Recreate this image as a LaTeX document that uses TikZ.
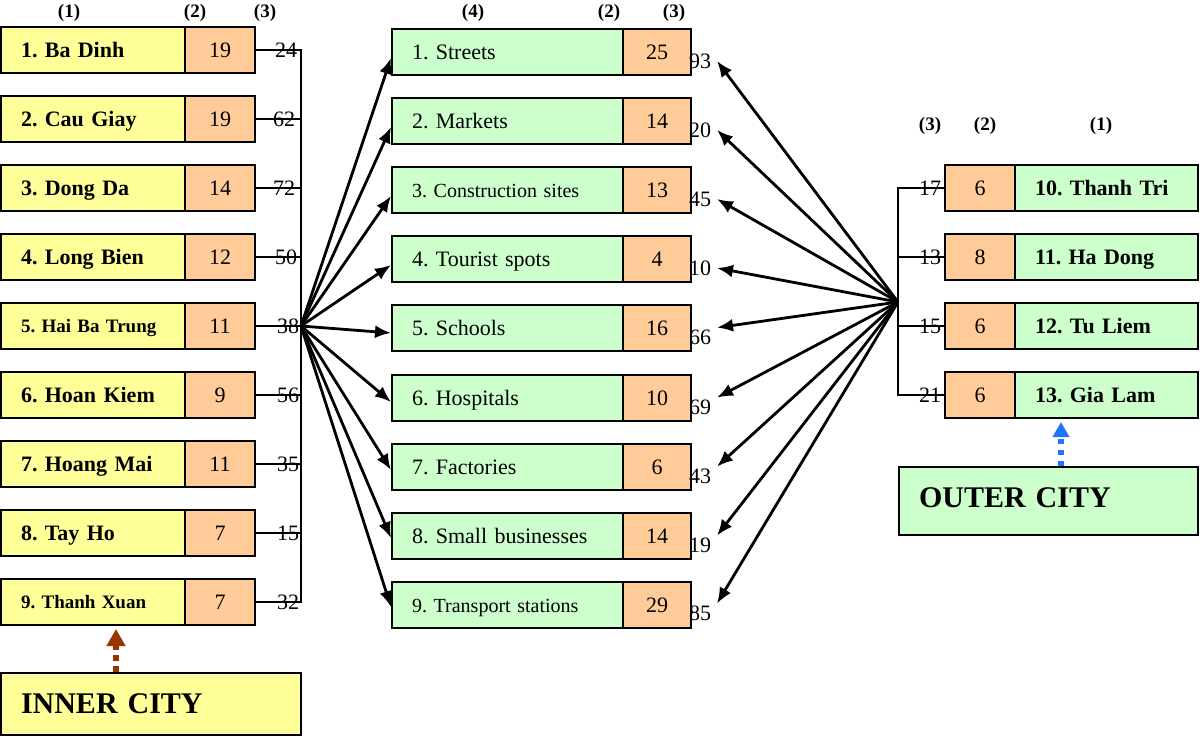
\documentclass[tikz,border=0pt]{standalone}
\usepackage{fontspec}
\setmainfont{Liberation Serif}
\usepackage{tikz}
\usetikzlibrary{arrows.meta,calc}
\usepackage{xcolor}
\definecolor{inyellow}{HTML}{FFFF99}
\definecolor{cellorange}{HTML}{FFCC99}
\definecolor{sitegreen}{HTML}{CCFFCC}
\definecolor{innerbrown}{HTML}{993300}
\definecolor{outerblue}{HTML}{1F75FE}
\frenchspacing

\begin{document}
\begin{tikzpicture}[x=1pt, y=-1pt, line width=2pt,
box/.style={draw, minimum height=46pt, inner ysep=0pt, text height=15pt, text depth=0pt, font=\fontsize{22}{24}\selectfont},
dist/.style={box, fill=inyellow, text width=144pt, inner xsep=20pt, align=left, font=\fontsize{22}{24}\selectfont\bfseries},
odist/.style={dist, fill=sitegreen, text width=143pt},
site/.style={box, fill=sitegreen, text width=191pt, inner xsep=20pt, align=left},
count/.style={box, fill=cellorange, minimum width=70pt, inner xsep=0pt},
val/.style={inner sep=1pt, font=\fontsize{22}{24}\selectfont},
head/.style={inner sep=0pt, font=\fontsize{19}{21}\selectfont\bfseries},
smallb/.style={font=\fontsize{19}{21}\selectfont\bfseries, text height=13pt},
smallr/.style={font=\fontsize{20}{22}\selectfont, text height=14pt},
city/.style={draw, text width=260pt, inner xsep=20pt, inner ysep=0pt, align=left, text height=20pt, font=\fontsize{30}{32}\selectfont\bfseries},
arr/.style={line width=2.8pt, -{Latex[length=16pt,width=13pt]}}]
\useasboundingbox (0,0) rectangle (1200,736);

\node[head] (h1) at (69,13) {(1)};
\node[head] (h2) at (195,13) {(2)};
\node[head] (h3) at (265,13) {(3)};
\node[head] (h4) at (473,13) {(4)};
\node[head] (h5) at (609,13) {(2)};
\node[head] (h6) at (674,13) {(3)};
\node[head] (h7) at (930,126) {(3)};
\node[head] (h8) at (985,126) {(2)};
\node[head] (h9) at (1101,126) {(1)};

\node[dist] (d1) at (93,50) {1. Ba Dinh};
\node[count] (d1c) at (220,50) {19};
\node[val, anchor=east] (d1v) at (299,50) {24};
\node[dist] (d2) at (93,119) {2. Cau Giay};
\node[count] (d2c) at (220,119) {19};
\node[val, anchor=east] (d2v) at (297,119) {62};
\node[dist] (d3) at (93,188) {3. Dong Da};
\node[count] (d3c) at (220,188) {14};
\node[val, anchor=east] (d3v) at (297,188) {72};
\node[dist] (d4) at (93,257) {4. Long Bien};
\node[count] (d4c) at (220,257) {12};
\node[val, anchor=east] (d4v) at (299,257) {50};
\node[dist, smallb] (d5) at (93,326) {5. Hai Ba Trung};
\node[count] (d5c) at (220,326) {11};
\node[val, anchor=east] (d5v) at (301,326) {38};
\node[dist] (d6) at (93,395) {6. Hoan Kiem};
\node[count] (d6c) at (220,395) {9};
\node[val, anchor=east] (d6v) at (301,395) {56};
\node[dist] (d7) at (93,464) {7. Hoang Mai};
\node[count] (d7c) at (220,464) {11};
\node[val, anchor=east] (d7v) at (301,464) {35};
\node[dist] (d8) at (93,533) {8. Tay Ho};
\node[count] (d8c) at (220,533) {7};
\node[val, anchor=east] (d8v) at (301,533) {15};
\node[dist, smallb] (d9) at (93,602) {9. Thanh Xuan};
\node[count] (d9c) at (220,602) {7};
\node[val, anchor=east] (d9v) at (301,602) {32};

\node[site] (s1) at (507.5,52) {1. Streets};
\node[count, minimum width=68pt] (s1c) at (657,52) {25};
\node[val, anchor=west] (s1v) at (687,61) {93};
\node[site] (s2) at (507.5,121) {2. Markets};
\node[count, minimum width=68pt] (s2c) at (657,121) {14};
\node[val, anchor=west] (s2v) at (687,130) {20};
\node[site, smallr] (s3) at (507.5,190) {3. Construction sites};
\node[count, minimum width=68pt] (s3c) at (657,190) {13};
\node[val, anchor=west] (s3v) at (687,199) {45};
\node[site] (s4) at (507.5,259) {4. Tourist spots};
\node[count, minimum width=68pt] (s4c) at (657,259) {4};
\node[val, anchor=west] (s4v) at (687,268) {10};
\node[site] (s5) at (507.5,328) {5. Schools};
\node[count, minimum width=68pt] (s5c) at (657,328) {16};
\node[val, anchor=west] (s5v) at (687,337) {66};
\node[site] (s6) at (507.5,398) {6. Hospitals};
\node[count, minimum width=68pt] (s6c) at (657,398) {10};
\node[val, anchor=west] (s6v) at (687,407) {69};
\node[site] (s7) at (507.5,467) {7. Factories};
\node[count, minimum width=68pt] (s7c) at (657,467) {6};
\node[val, anchor=west] (s7v) at (687,476) {43};
\node[site] (s8) at (507.5,536) {8. Small businesses};
\node[count, minimum width=68pt] (s8c) at (657,536) {14};
\node[val, anchor=west] (s8v) at (687,545) {19};
\node[site, smallr] (s9) at (507.5,605) {9. Transport stations};
\node[count, minimum width=68pt] (s9c) at (657,605) {29};
\node[val, anchor=west] (s9v) at (687,613) {85};

\node[count] (d10c) at (980,188) {6};
\node[odist] (d10) at (1106.5,188) {10. Thanh Tri};
\node[val, anchor=east] (d10v) at (943,188) {17};
\node[count] (d11c) at (980,257) {8};
\node[odist] (d11) at (1106.5,257) {11. Ha Dong};
\node[val, anchor=east] (d11v) at (943,257) {13};
\node[count] (d12c) at (980,326) {6};
\node[odist] (d12) at (1106.5,326) {12. Tu Liem};
\node[val, anchor=east] (d12v) at (943,326) {15};
\node[count] (d13c) at (980,395) {6};
\node[odist] (d13) at (1106.5,395) {13. Gia Lam};
\node[val, anchor=east] (d13v) at (943,395) {21};

\node[city, fill=inyellow, minimum height=62pt, text depth=2pt] (inner) at (151,704) {INNER CITY};
\node[city, fill=sitegreen, minimum height=68pt, text width=259pt, text depth=8pt] (outer) at (1048.5,501) {OUTER CITY};

\coordinate (lhub) at (301,326);
\coordinate (rhub) at (898,302);
\coordinate (ia) at (116,629);
\coordinate (oa) at (1061,422);

\draw (d1c.east) -- (d1c.east -| lhub) -- (d9c.east -| lhub) -- (d9c.east);
\path (d2c.east) edge (d2c.east -| lhub)
(d3c.east) edge (d3c.east -| lhub)
(d4c.east) edge (d4c.east -| lhub)
(d5c.east) edge (lhub)
(d6c.east) edge (d6c.east -| lhub)
(d7c.east) edge (d7c.east -| lhub)
(d8c.east) edge (d8c.east -| lhub);

\draw (d10c.west) -- (d10c.west -| rhub) -- (d13c.west -| rhub) -- (d13c.west);
\path (d11c.west) edge (d11c.west -| rhub)
(d12c.west) edge (d12c.west -| rhub);

\path[arr] (lhub) edge ([yshift=-6pt]s1.west)
edge ([yshift=-6pt]s2.west)
edge ([yshift=-6pt]s3.west)
edge ([yshift=-6pt]s4.west)
edge ([yshift=-5pt]s5.west)
edge ([yshift=-4pt]s6.west)
edge ([yshift=-3pt]s7.west)
edge ([yshift=-2pt]s8.west)
edge ([yshift=-2pt]s9.west);

\path[arr] (rhub) edge ([xshift=4pt]s1v.east)
edge ([xshift=4pt]s2v.east)
edge ([xshift=4pt]s3v.east)
edge ([xshift=4pt]s4v.east)
edge ([xshift=4pt]s5v.north east)
edge ([xshift=4pt]s6v.north east)
edge ([xshift=4pt]s7v.north east)
edge ([xshift=4pt]s8v.north east)
edge ([xshift=4pt]s9v.north east);

\draw[innerbrown, line width=6pt, dash pattern=on 6pt off 5pt, -{Triangle[length=17pt,width=18pt]}] (ia |- inner.north) -- (ia);
\draw[outerblue, line width=6pt, dash pattern=on 5pt off 6pt, -{Triangle[length=15pt,width=16pt]}] (oa |- outer.north) -- (oa);
\end{tikzpicture}
\end{document}
